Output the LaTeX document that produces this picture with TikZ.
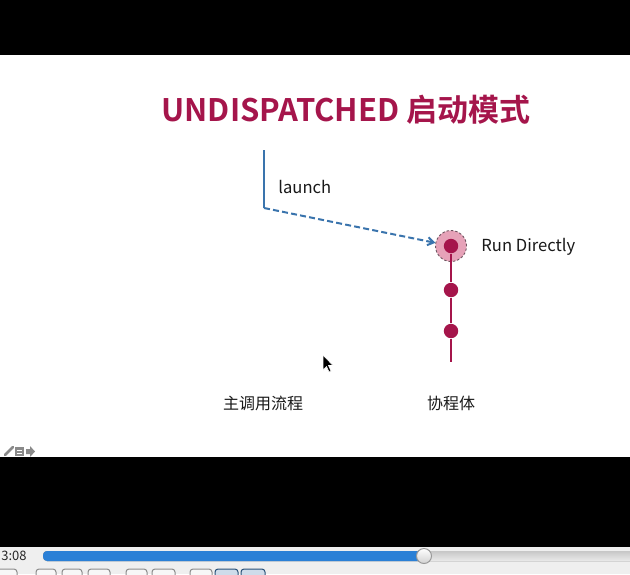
\documentclass[tikz,border=0pt]{standalone}
\usepackage{fontspec}
\setmainfont{Noto Sans CJK SC}
\newfontfamily\titlefont{Noto Sans CJK SC Bold}
\usetikzlibrary{arrows.meta}
\definecolor{crimson}{HTML}{A5154B}
\definecolor{linkblue}{HTML}{3A74AD}
\definecolor{pinkfill}{HTML}{E6A2B8}
\definecolor{rimgray}{HTML}{6E5560}
\definecolor{barblue}{HTML}{2B80D6}
\definecolor{bargray}{HTML}{EFEFEF}
\definecolor{icongray}{HTML}{8A8A8A}
\tikzset{
  blueline/.style={draw=linkblue, line width=1pt},
  bluedash/.style={draw=linkblue, line width=1pt, dash pattern=on 3pt off 1.6pt, -{Straight Barb[length=3pt,width=4pt]}},
  redline/.style={draw=crimson, line width=1pt},
  dotnode/.style={circle, fill=crimson, inner sep=0pt, minimum size=7.2pt},
  haloring/.style={circle, fill=pinkfill, draw=rimgray, dashed, dash pattern=on 1.2pt off 1pt, line width=0.45pt, inner sep=0pt, minimum size=15.5pt},
  label/.style={font=\fontsize{8.3pt}{10pt}\selectfont, text=black!90, inner sep=0pt},
  cjklabel/.style={font=\fontsize{8pt}{10pt}\selectfont, text=black!90, inner sep=0pt},
  ctrlbtn/.style={draw=black!45, fill=black!3, rounded corners=1.5pt, line width=0.5pt},
}
\begin{document}
\begin{tikzpicture}[x=0.5pt,y=-0.5pt]
\useasboundingbox (0,0) rectangle (630,574);
\begin{scope}
\clip (0,0) rectangle (630,574);
% screen background
\fill[black] (0,0) rectangle (630,574);
\fill[white] (0,55) rectangle (630,457);
\fill[bargray] (0,547) rectangle (630,574);

% title
\node[font=\titlefont\fontsize{15.5pt}{18pt}\selectfont, text=crimson, inner sep=0pt] (title) at (346,110) {UNDISPATCHED 启动模式};

% main flow
\coordinate (top) at (264,150);
\coordinate (corner) at (264,208);
\node[label, anchor=west] (launch) at (278,187) {launch};

% coroutine
\node[haloring] (run) at (451,246) {};
\node[dotnode] (d0) at (451,246) {};
\node[dotnode] (d1) at (451,290) {};
\node[dotnode] (d2) at (451,331) {};
\coordinate (bot) at (451,362);
\node[label, anchor=west] (rundir) at (481,247) {Run Directly};

\draw[blueline] (top) -- (corner);
\draw[bluedash] (corner) -- (run);
\draw[redline] (d0) -- (d1);
\draw[redline] (d1) -- (d2);
\draw[redline] (d2) -- (bot);

% bottom labels
\node[cjklabel] (mainflow) at (263,403) {主调用流程};
\node[cjklabel] (body) at (451,403) {协程体};

% mouse cursor
\filldraw[fill=black, draw=white, line width=0.3pt]
  (323,355) -- (323,370) -- (326.5,366.5) -- (329,372) -- (331,371) -- (328.5,365.5) -- (333,365.5) -- cycle;

% slide tool icons
\draw[icongray, line width=1.3pt, line cap=round] (5,455) -- (13,447);
\fill[icongray] (15,447) rectangle (24,456);
\fill[white] (17,450) rectangle (22,451);
\fill[white] (17,453) rectangle (22,454);
\fill[icongray] (26,449) rectangle (30,454) (30,446) -- (35,451.5) -- (30,457) -- cycle;

% player bar
\node[font=\fontsize{6.5pt}{8pt}\selectfont, text=black!85, inner sep=0pt, anchor=east] (time) at (27,556) {3:08};
\fill[top color=black!22, bottom color=black!8, rounded corners=2pt] (43,551) rectangle (640,561);
\fill[barblue, rounded corners=2pt] (43,551) rectangle (426,561);
\node[circle, draw=black!40, top color=white, bottom color=black!18, line width=0.5pt, inner sep=0pt, minimum size=7.5pt] (knob) at (424,556) {};

% control buttons (partially visible)
\draw[ctrlbtn] (-4,569) rectangle (17,582);
\draw[ctrlbtn] (36,569) rectangle (56,582);
\draw[ctrlbtn] (62,569) rectangle (82,582);
\draw[ctrlbtn] (88,569) rectangle (110,582);
\draw[ctrlbtn] (126,569) rectangle (147,582);
\draw[ctrlbtn] (152,569) rectangle (175,582);
\draw[ctrlbtn] (190,569) rectangle (212,582);
\draw[ctrlbtn, draw=linkblue!70!black, fill=linkblue!25] (215,569) rectangle (238,582);
\draw[ctrlbtn, draw=linkblue!70!black, fill=linkblue!25] (241,569) rectangle (265,582);
\end{scope}
\end{tikzpicture}
\end{document}
